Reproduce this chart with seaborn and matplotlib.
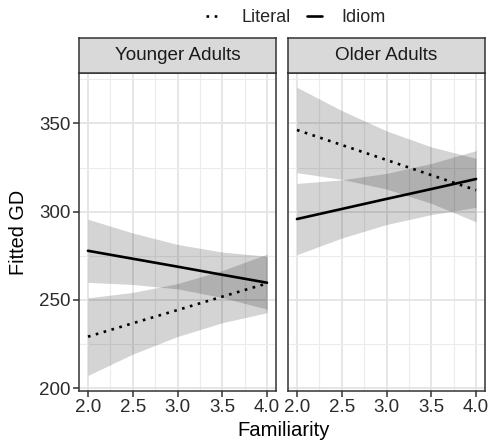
import matplotlib
matplotlib.use("Agg")
import matplotlib.pyplot as plt
import seaborn as sns
import pandas as pd
from matplotlib.ticker import MultipleLocator

sns.set_theme(style="white")
plt.rcParams['font.family'] = ['Liberation Sans', 'DejaVu Sans']

# values (fit and confidence band)
familiarity = [2.0, 2.5, 3.0, 3.5, 4.0]
groups = ['Younger Adults', 'Older Adults']
conditions = ['Literal', 'Idiom']

young_literal_fit = [229.1, 236.7, 244.2, 251.8, 259.3]
young_literal_lo = [207.1, 219.2, 229.2, 237.0, 242.7]
young_literal_hi = [251.1, 254.2, 259.2, 266.6, 275.9]

young_idiom_fit = [277.8, 273.3, 268.8, 264.2, 259.7]
young_idiom_lo = [259.9, 258.7, 256.2, 251.3, 244.7]
young_idiom_hi = [295.7, 287.9, 281.4, 277.1, 274.7]

old_literal_fit = [346.3, 337.8, 329.3, 320.7, 312.2]
old_literal_lo = [322.1, 318.3, 312.8, 304.7, 294.2]
old_literal_hi = [370.5, 357.3, 345.8, 336.7, 330.2]

old_idiom_fit = [295.8, 301.5, 307.2, 312.8, 318.5]
old_idiom_lo = [275.6, 285.0, 292.7, 298.3, 302.4]
old_idiom_hi = [316.0, 318.0, 321.7, 327.3, 334.6]

series = {
    ('Younger Adults', 'Literal'): (young_literal_fit, young_literal_lo, young_literal_hi),
    ('Younger Adults', 'Idiom'): (young_idiom_fit, young_idiom_lo, young_idiom_hi),
    ('Older Adults', 'Literal'): (old_literal_fit, old_literal_lo, old_literal_hi),
    ('Older Adults', 'Idiom'): (old_idiom_fit, old_idiom_lo, old_idiom_hi),
}

rows = []
for (g, c), (fit, lo, hi) in series.items():
    for x, f, l, h in zip(familiarity, fit, lo, hi):
        rows.append({'Group': g, 'Condition': c, 'Familiarity': x,
                     'GD': f, 'lower': l, 'upper': h})
df = pd.DataFrame(rows)

W, H = 490, 443
fig = plt.figure(figsize=(W / 100, H / 100), dpi=100)

edge = '#333333'
panel_left = [79, 288]
panel_w = 197
panel_top, panel_bot = 73, 391
strip_top = 38

handles, labels = None, None
for i, g in enumerate(groups):
    ax = fig.add_axes([panel_left[i] / W, (H - panel_bot) / H,
                       panel_w / W, (panel_bot - panel_top) / H])
    sub = df[df['Group'] == g]
    for c in conditions:
        s = sub[sub['Condition'] == c]
        ax.fill_between(s['Familiarity'], s['lower'], s['upper'],
                        color='black', alpha=0.17, lw=0, zorder=2)
    sns.lineplot(data=sub, x='Familiarity', y='GD', style='Condition',
                 style_order=conditions,
                 dashes={'Literal': (1, 2.1), 'Idiom': ''},
                 color='black', lw=1.9, errorbar=None, ax=ax,
                 legend=(i == 0), zorder=3)
    if i == 0:
        handles, labels = ax.get_legend_handles_labels()
        ax.get_legend().remove()

    ax.set_xlim(1.9, 4.1)
    ax.set_ylim(198.3, 378.6)
    ax.xaxis.set_major_locator(MultipleLocator(0.5))
    ax.xaxis.set_minor_locator(MultipleLocator(0.25))
    ax.yaxis.set_major_locator(MultipleLocator(50))
    ax.yaxis.set_minor_locator(MultipleLocator(25))
    ax.set_xticks([2.0, 2.5, 3.0, 3.5, 4.0])
    ax.set_xticklabels(['2.0', '2.5', '3.0', '3.5', '4.0'])
    ax.grid(which='major', color='#E4E4E4', lw=1.3, zorder=0)
    ax.grid(which='minor', color='#ECECEC', lw=0.8, zorder=0)
    ax.set_axisbelow(True)
    ax.set_xlabel('')
    ax.set_ylabel('')
    for sp in ax.spines.values():
        sp.set_color(edge)
        sp.set_linewidth(1.1)
    ax.tick_params(axis='both', which='major', length=4, width=1.1,
                   color=edge, labelsize=13.5, labelcolor='#2B2B2B', pad=2,
                   bottom=True, left=True)
    ax.tick_params(axis='both', which='minor', length=0)
    if i == 1:
        ax.tick_params(axis='y', which='both', left=False, labelleft=False)

    # facet strip
    sax = fig.add_axes([panel_left[i] / W, (H - panel_top) / H,
                        panel_w / W, (panel_top - strip_top) / H])
    sax.set_facecolor('#D9D9D9')
    sax.set_xticks([])
    sax.set_yticks([])
    for sp in sax.spines.values():
        sp.set_color(edge)
        sp.set_linewidth(1.1)
    sax.text(0.5, 0.5, g, ha='center', va='center', size=13.6,
             color='#1A1A1A', transform=sax.transAxes)

fig.legend(handles, labels, ncol=2, frameon=False, loc='center',
           bbox_to_anchor=(296 / W, 1 - 18 / H), fontsize=13,
           handlelength=0.85, handletextpad=1.1, columnspacing=0.9)

fig.text(18 / W, 1 - 232 / H, 'Fitted GD', rotation=90, ha='center',
         va='center', size=14.3, color='black')
fig.text(284 / W, 1 - 431 / H, 'Familiarity', ha='center', va='center',
         size=14.6, color='black')

fig.savefig('out.png', dpi=100)
